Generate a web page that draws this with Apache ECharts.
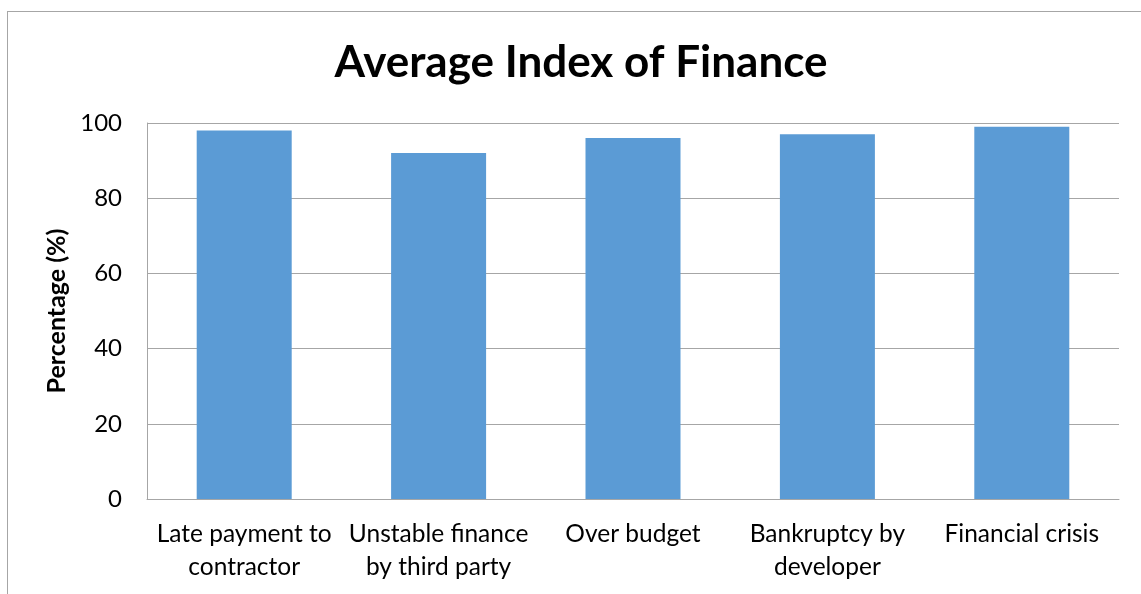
<!DOCTYPE html>
<html>
<head>
<meta charset="utf-8">
<script src="https://cdn.jsdelivr.net/npm/echarts@6/dist/echarts.min.js"></script>
<style>
  html, body { margin: 0; padding: 0; background: #fff; }
  #frame { position: absolute; left: 7px; top: 11px; width: 1140px; height: 600px;
           border: 1px solid #a6a6a6; box-sizing: border-box; }
  #chart { position: absolute; left: 0; top: 0; width: 1141px; height: 594px; }
</style>
</head>
<body>
<div id="frame"></div>
<div id="chart"></div>
<script>
const categories = [
  'Late payment to\ncontractor',
  'Unstable finance\nby third party',
  'Over budget',
  'Bankruptcy by\ndeveloper',
  'Financial crisis'
];
const averageIndex = [98, 92, 96, 97, 99];
const yTicks = { min: 0, max: 100, interval: 20 };

const FONT = 'Lato, "Open Sans", sans-serif';
const chart = echarts.init(document.getElementById('chart'), null, { renderer: 'canvas' });
chart.setOption({
  animation: false,
  title: {
    text: 'Average Index of Finance',
    left: 576, top: 36, textAlign: 'center',
    textStyle: { fontFamily: FONT, fontWeight: 'bold', fontSize: 44, color: '#000' }
  },
  grid: { left: 147, right: 22, top: 123, bottom: 95 },
  xAxis: {
    type: 'category',
    data: categories,
    axisLine: { lineStyle: { color: '#a6a6a6', width: 1 } },
    axisTick: { show: false },
    axisLabel: { color: '#000', fontFamily: FONT, fontSize: 24.5, lineHeight: 33, margin: 19, interval: 0 }
  },
  yAxis: {
    type: 'value',
    min: yTicks.min, max: yTicks.max, interval: yTicks.interval,
    name: 'Percentage (%)',
    nameLocation: 'middle',
    nameGap: 73,
    nameTextStyle: { fontFamily: FONT, fontWeight: 'bold', fontSize: 25, color: '#000' },
    axisLine: { show: true, lineStyle: { color: '#a6a6a6', width: 1 } },
    axisTick: { show: false },
    axisLabel: { color: '#000', fontFamily: FONT, fontSize: 24, margin: 25 },
    splitLine: { lineStyle: { color: '#a6a6a6', width: 1 } }
  },
  series: [{
    type: 'bar',
    data: averageIndex,
    barWidth: 95,
    itemStyle: { color: '#5b9bd5' }
  }]
});
</script>
</body>
</html>
